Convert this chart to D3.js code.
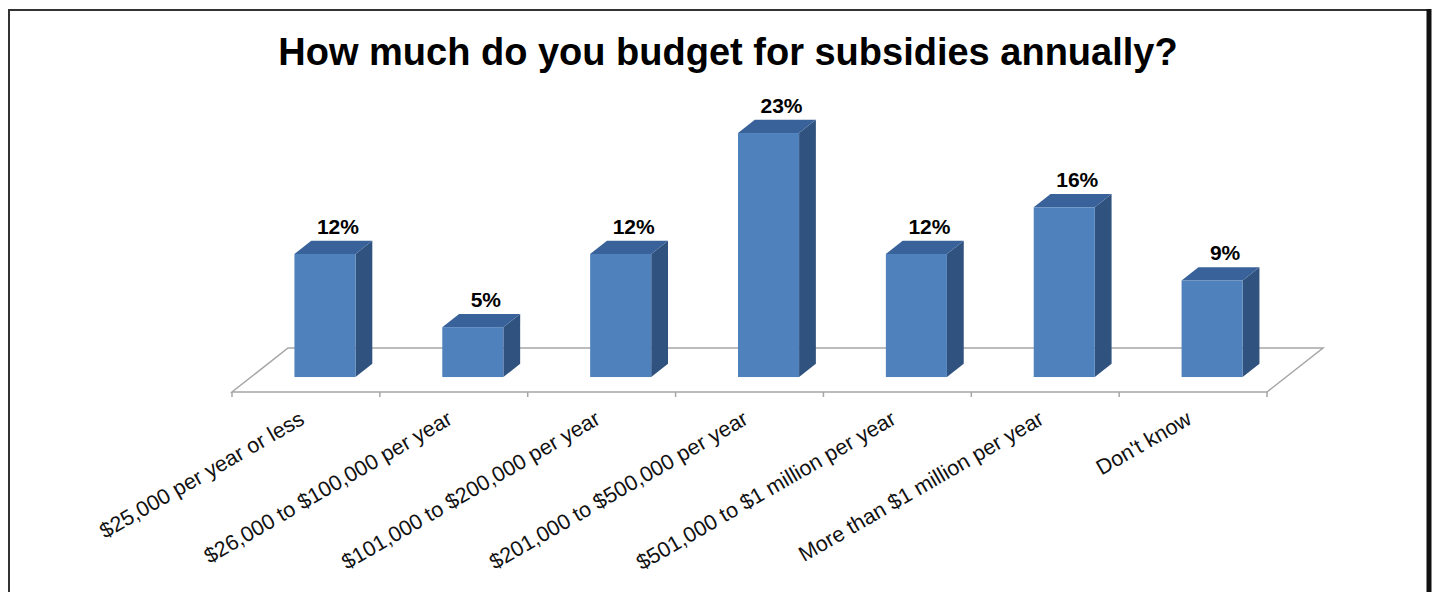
<!DOCTYPE html>
<html>
<head>
<meta charset="utf-8">
<script src="https://cdn.jsdelivr.net/npm/d3@7"></script>
<style>
  body { margin: 0; background: #fff; }
  svg { display: block; }
</style>
</head>
<body>
<div id="chart"></div>
<script>
const title = "How much do you budget for subsidies annually?";
const categories = [
    "$25,000 per year or less",
    "$26,000 to $100,000 per year",
    "$101,000 to $200,000 per year",
    "$201,000 to $500,000 per year",
    "$501,000 to $1 million per year",
    "More than $1 million per year",
    "Don't know"
];
// percent of respondents (labels are rounded)
const values = [11.6, 4.7, 11.6, 23.0, 11.6, 16.0, 9.1];

const width = 1435, height = 592;

const svg = d3.select("#chart")
    .append("svg")
    .attr("width", width)
    .attr("height", height);

// frame
svg.append("line")
    .attr("x1", 8).attr("x2", 1429)
    .attr("y1", 10).attr("y2", 10)
    .attr("stroke", "#333").attr("stroke-width", 2);
svg.append("line")
    .attr("x1", 9).attr("x2", 9)
    .attr("y1", 9).attr("y2", height)
    .attr("stroke", "#333").attr("stroke-width", 2);
svg.append("line")
    .attr("x1", 1429).attr("x2", 1429)
    .attr("y1", 9).attr("y2", height)
    .attr("stroke", "#111").attr("stroke-width", 5);

svg.append("text")
    .attr("x", 728)
    .attr("y", 65)
    .attr("text-anchor", "middle")
    .attr("font-family", "Liberation Sans, Arial, sans-serif")
    .attr("font-weight", "bold")
    .attr("font-size", "38px")
    .attr("fill", "#000")
    .text(title);

// floor geometry (oblique projection)
const frontY = 392;
const depth = { dx: 56, dy: -44 };
const x = d3.scaleBand()
    .domain(categories)
    .range([232, 1267])
    .paddingInner(0.587)
    .paddingOuter(0.2935);

const h = d3.scaleLinear()
    .domain([0, 23])
    .range([0, 244]);

const floor = svg.append("g");
const [x0, x1] = x.range();
floor.append("path")
    .attr("d", `M${x0},${frontY} L${x1},${frontY} L${x1 + depth.dx},${frontY + depth.dy} L${x0 + depth.dx},${frontY + depth.dy} Z`)
    .attr("fill", "#fff")
    .attr("stroke", "#a6a6a6")
    .attr("stroke-width", 1.5);

// ticks on the front edge
floor.selectAll("line.tick")
    .data(d3.range(categories.length + 1))
    .enter()
    .append("line")
    .attr("class", "tick")
    .attr("x1", i => x0 + i * x.step())
    .attr("x2", i => x0 + i * x.step())
    .attr("y1", frontY)
    .attr("y2", frontY + 5)
    .attr("stroke", "#a6a6a6")
    .attr("stroke-width", 1.5);

// bars: front face sits a third of the way into the floor
const off = 0.34, bd = 0.3;
const fx = depth.dx * off, fy = depth.dy * off;
const bdx = depth.dx * bd, bdy = depth.dy * bd;

const bars = svg.selectAll("g.bar")
    .data(values)
    .enter()
    .append("g")
    .attr("class", "bar");

bars.each(function (v, i) {
    const g = d3.select(this);
    const left = x(categories[i]) + fx;
    const right = left + x.bandwidth();
    const bottom = frontY + fy;
    const top = bottom - h(v);

    // side face
    g.append("path")
        .attr("d", `M${right},${bottom} L${right + bdx},${bottom + bdy} L${right + bdx},${top + bdy} L${right},${top} Z`)
        .attr("fill", "#30527e");
    // top face
    g.append("path")
        .attr("d", `M${left},${top} L${right},${top} L${right + bdx},${top + bdy} L${left + bdx},${top + bdy} Z`)
        .attr("fill", "#39629a");
    // front face
    g.append("rect")
        .attr("x", left)
        .attr("y", top)
        .attr("width", x.bandwidth())
        .attr("height", h(v))
        .attr("fill", "#4f81bd");

    g.append("text")
        .attr("x", left + x.bandwidth() / 2 + 13)
        .attr("y", top + bdy - 7)
        .attr("text-anchor", "middle")
        .attr("font-family", "Liberation Sans, Arial, sans-serif")
        .attr("font-weight", "bold")
        .attr("font-size", "21px")
        .attr("fill", "#000")
        .text(Math.round(v) + "%");
});

// category labels
svg.selectAll("text.cat")
    .data(categories)
    .enter()
    .append("text")
    .attr("class", "cat")
    .attr("transform", d => `translate(${x(d) + x.bandwidth() / 2},${frontY + 31}) rotate(-30)`)
    .attr("text-anchor", "end")
    .attr("font-family", "Liberation Sans, Arial, sans-serif")
    .attr("font-size", "21.5px")
    .attr("fill", "#111")
    .text(d => d);
</script>
</body>
</html>
